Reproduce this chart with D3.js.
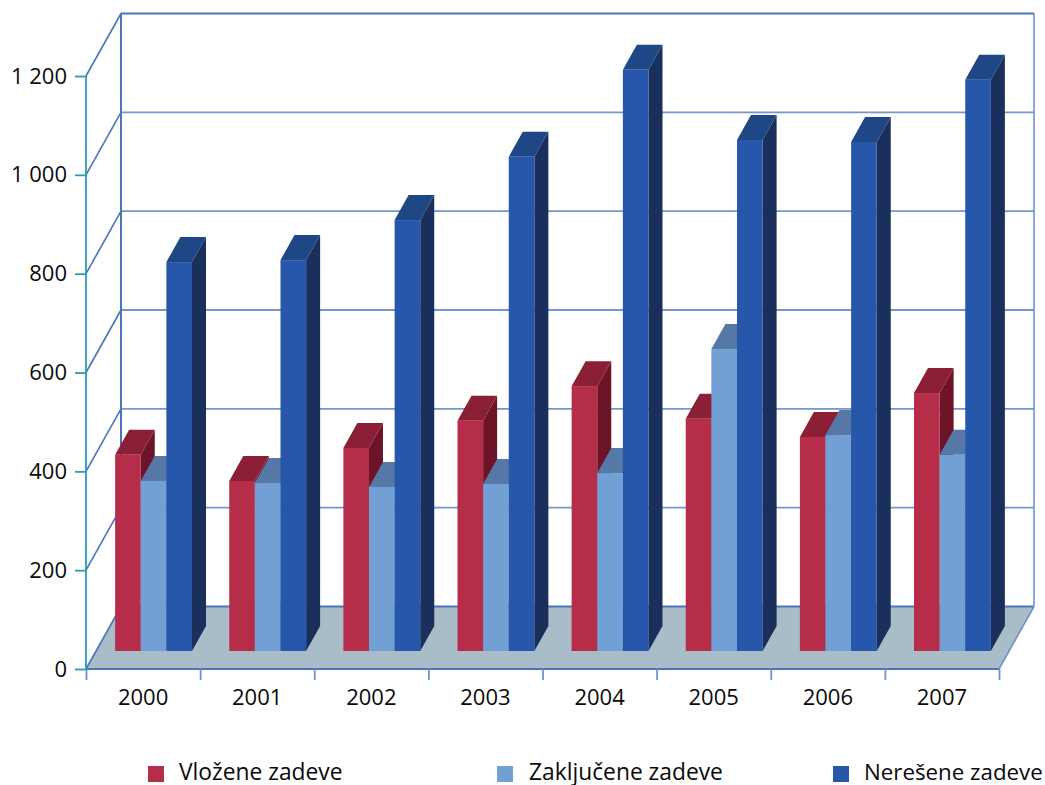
<!DOCTYPE html>
<html>
<head>
<meta charset="utf-8">
<script src="https://d3js.org/d3.v7.min.js"></script>
<style>
	html, body { margin: 0; padding: 0; background: #fff; }
	svg { display: block; }
	text { font-family: "Open Sans", sans-serif; font-size: 22px; fill: #0a0a0a; }
</style>
</head>
<body>
<svg id="plot" width="1045" height="785"></svg>
<script>
const YEARS = ['2000', '2001', '2002', '2003', '2004', '2005', '2006', '2007'];
const SERIES = ['Vložene zadeve', 'Zaključene zadeve', 'Nerešene zadeve'];
const VLOZENE = [397, 344, 411, 466, 536, 470, 433, 522];
const ZAKLJUCENE = [344, 340, 332, 338, 360, 611, 437, 397];
const NERESENE = [787, 791, 872, 1000, 1176, 1034, 1030, 1156];
const Y_TICKS = [0, 200, 400, 600, 800, 1000, 1200];
const FRONT = ['#b52d48', '#72a0d4', '#2757aa'];
const TOPS = ['#8a1f35', '#5678a6', '#1f4685'];
const SIDES = ['#6d1428', '#41608c', '#1b2f5c'];

const VALUES = [VLOZENE, ZAKLJUCENE, NERESENE];

// room depth and bar depth in pixels
const WALL_DX = 35, WALL_DY = 62.5;
const BAR_SHIFT_X = 10.5, BAR_SHIFT_Y = 18;
const BAR_DX = 14, BAR_DY = 25;

const svg = d3.select('#plot');
const x = d3.scaleBand().domain(YEARS).range([86, 999]);
const xInner = d3.scaleBand().domain(SERIES).range([0, x.bandwidth()]).paddingOuter(0.727).paddingInner(0);
const y = d3.scaleLinear().domain([0, 1200]).range([669, 76]);
const edges = d3.scaleLinear().domain([0, YEARS.length]).range([86, 999]);

const poly = pts => pts.map(p => p.join(',')).join(' ');

// floor
svg.append('polygon')
	.attr('points', poly([[86, y(0)], [86 + WALL_DX, y(0) - WALL_DY], [999 + WALL_DX, y(0) - WALL_DY], [999, y(0)]]))
	.attr('fill', '#a9bdc9');

// grid on the back wall and the left wall
const grid = svg.append('g');
Y_TICKS.forEach(t => {
	const edge = t === 0 || t === 1200;
	grid.append('line')
		.attr('x1', 86 + WALL_DX).attr('x2', 999 + WALL_DX)
		.attr('y1', y(t) - WALL_DY).attr('y2', y(t) - WALL_DY)
		.attr('stroke', edge ? '#4a74bb' : '#7596cd').attr('stroke-width', edge ? 2 : 1.8);
	grid.append('line')
		.attr('x1', 86).attr('x2', 86 + WALL_DX)
		.attr('y1', y(t)).attr('y2', y(t) - WALL_DY)
		.attr('stroke', '#4a74bb').attr('stroke-width', 1.6);
});
grid.append('line')
	.attr('x1', 86 + WALL_DX).attr('x2', 86 + WALL_DX)
	.attr('y1', y(1200) - WALL_DY).attr('y2', y(0) - WALL_DY)
	.attr('stroke', '#4a74bb').attr('stroke-width', 2);
grid.append('line')
	.attr('x1', 999 + WALL_DX).attr('x2', 999 + WALL_DX)
	.attr('y1', y(1200) - WALL_DY).attr('y2', y(0) - WALL_DY)
	.attr('stroke', '#6f92cb').attr('stroke-width', 1.6);
grid.append('line')
	.attr('x1', 999).attr('x2', 999 + WALL_DX)
	.attr('y1', y(0)).attr('y2', y(0) - WALL_DY)
	.attr('stroke', '#6f92cb').attr('stroke-width', 1.6);

// bars, left to right so nearer faces paint over
YEARS.forEach((year, i) => {
	SERIES.forEach((name, s) => {
		const x0 = x(year) + xInner(name) + BAR_SHIFT_X;
		const x1 = x0 + xInner.bandwidth();
		const top = y(VALUES[s][i]) - BAR_SHIFT_Y;
		const base = y(0) - BAR_SHIFT_Y;
		const g = svg.append('g');
		g.append('polygon')
			.attr('points', poly([[x1, top], [x1 + BAR_DX, top - BAR_DY], [x1 + BAR_DX, base - BAR_DY], [x1, base]]))
			.attr('fill', SIDES[s]);
		g.append('polygon')
			.attr('points', poly([[x0, top], [x0 + BAR_DX, top - BAR_DY], [x1 + BAR_DX, top - BAR_DY], [x1, top]]))
			.attr('fill', TOPS[s]);
		g.append('rect')
			.attr('x', x0).attr('y', top)
			.attr('width', x1 - x0).attr('height', base - top)
			.attr('fill', FRONT[s]);
	});
});

// axes
const yAxis = svg.append('g')
	.attr('transform', 'translate(86,0)')
	.call(d3.axisLeft(y).tickValues(Y_TICKS).tickSize(11).tickPadding(8)
		.tickFormat(d => d3.format(',')(d).replace(',', ' ')));
yAxis.selectAll('line, path').attr('stroke', '#2b9bb3').attr('stroke-width', 1.8);
yAxis.select('path').attr('d', `M0,${y(1200)}V${y(0)}`);
yAxis.selectAll('text').attr('fill', '#0a0a0a').style('font-size', '22px').style('font-family', '"Open Sans", sans-serif');

const xTicks = svg.append('g')
	.attr('transform', `translate(0,${y(0)})`)
	.call(d3.axisBottom(edges).ticks(YEARS.length).tickSize(11).tickFormat(''));
xTicks.selectAll('line').attr('stroke', '#6f92cb').attr('stroke-width', 1.8);
xTicks.select('path').attr('stroke', '#4a74bb').attr('stroke-width', 2).attr('d', `M86,0H999`);

const xLabels = svg.append('g')
	.attr('transform', `translate(0,${y(0)})`)
	.call(d3.axisBottom(x).tickSize(0).tickPadding(20));
xLabels.select('path').remove();
xLabels.selectAll('text').attr('fill', '#0a0a0a').style('font-size', '22px').style('font-family', '"Open Sans", sans-serif');

// legend
const legendX = [148, 497, 833];
const legendTextX = [179, 529, 864];
const legendFont = [22.8, 22.8, 22.3];
SERIES.forEach((name, s) => {
	svg.append('rect')
		.attr('x', legendX[s]).attr('y', 766)
		.attr('width', 16).attr('height', 16)
		.attr('fill', FRONT[s]);
	svg.append('text')
		.attr('x', legendTextX[s]).attr('y', 779.5)
		.style('font-size', legendFont[s] + 'px')
		.text(name);
});
</script>
</body>
</html>
